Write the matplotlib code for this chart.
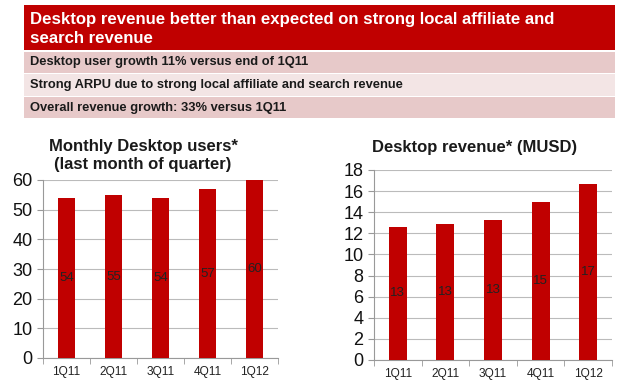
import matplotlib
matplotlib.use("Agg")
import matplotlib.pyplot as plt
from matplotlib.patches import Rectangle

plt.rcParams['font.family'] = ['Liberation Sans', 'DejaVu Sans']

quarters = ["1Q11", "2Q11", "3Q11", "4Q11", "1Q12"]
users = [53.8, 54.8, 53.9, 56.9, 59.9]
users_labels = ["54", "55", "54", "57", "60"]
revenue = [12.6, 12.9, 13.3, 15.0, 16.7]
revenue_labels = ["13", "13", "13", "15", "17"]

header_title = "Desktop revenue better than expected on strong local affiliate and\nsearch revenue"
bullets = ["Desktop user growth 11% versus end of 1Q11",
           "Strong ARPU due to strong local affiliate and search revenue",
           "Overall revenue growth: 33% versus 1Q11"]

W, H = 625, 383
fig = plt.figure(figsize=(W / 100, H / 100), dpi=100)
fig.patch.set_facecolor("white")

def fx(x):
    return x / W

def fy(y):
    return 1 - y / H

RED = "#C00000"

# Header band
fig.patches.append(Rectangle((fx(24), fy(50)), fx(615) - fx(24), (50 - 5) / H,
                             transform=fig.transFigure, facecolor=RED, edgecolor="none"))
fig.text(fx(30), fy(29), header_title, color="white", fontsize=12.1, fontweight="bold",
         ha="left", va="center", linespacing=1.32)

rows = [(52, 73, "#E7C9C9"), (74, 96, "#F3E5E5"), (97, 118, "#E7C9C9")]
for (y0, y1, c), txt in zip(rows, bullets):
    fig.patches.append(Rectangle((fx(24), fy(y1)), fx(615) - fx(24), (y1 - y0) / H,
                                 transform=fig.transFigure, facecolor=c, edgecolor="none"))
    fig.text(fx(30), fy((y0 + y1) / 2), txt, color="#1a1a1a", fontsize=9.3,
             fontweight="bold", ha="left", va="center")

def draw(ax, values, labels, ymax, step):
    x = list(range(len(quarters)))
    ax.bar(x, values, width=0.38, color=RED, zorder=3)
    for xi, v, lab in zip(x, values, labels):
        ax.text(xi, v / 2, lab, ha="center", va="center", fontsize=9.5, color="#222222", zorder=4)
    ax.set_xlim(-0.5, len(quarters) - 0.5)
    ax.set_ylim(0, ymax)
    ax.set_yticks(range(0, ymax + 1, step))
    ax.set_xticks(x)
    ax.set_xticklabels(quarters, fontsize=8.6, color="#222222")
    ax.set_xticks([i + 0.5 for i in range(-1, len(quarters))], minor=True)
    ax.tick_params(axis="x", which="major", length=0, pad=6)
    ax.tick_params(axis="x", which="minor", length=4, color="#999999", direction="out")
    ax.tick_params(axis="y", labelsize=13, length=4, color="#999999", labelcolor="#111111")
    ax.yaxis.grid(True, color="#bbbbbb", linewidth=0.8, zorder=0)
    for s in ["top", "right"]:
        ax.spines[s].set_visible(False)
    for s in ["left", "bottom"]:
        ax.spines[s].set_color("#999999")
        ax.spines[s].set_linewidth(0.8)
    ax.set_facecolor("white")

ax1 = fig.add_axes([fx(43), fy(358), (278 - 43) / W, (358 - 180) / H])
draw(ax1, users, users_labels, 60, 10)
fig.text(fx(143), fy(155.5), "Monthly Desktop users*\n(last month of quarter)", fontsize=12,
         fontweight="bold", ha="center", va="center", color="#1a1a1a", linespacing=1.25)

ax2 = fig.add_axes([fx(374), fy(360), (612 - 374) / W, (360 - 170) / H])
draw(ax2, revenue, revenue_labels, 18, 2)
fig.text(fx(475), fy(148), "Desktop revenue* (MUSD)", fontsize=12,
         fontweight="bold", ha="center", va="center", color="#1a1a1a")

fig.savefig("out.png", dpi=100, facecolor="white")
